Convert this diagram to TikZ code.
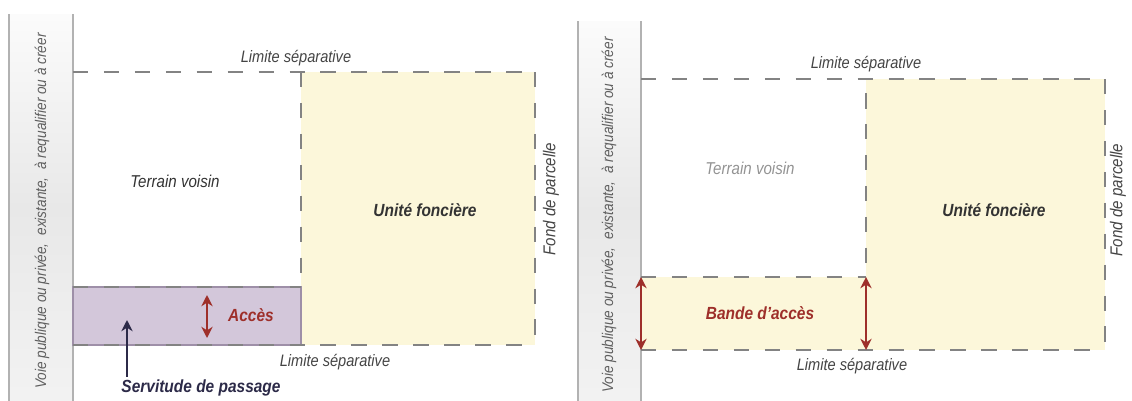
\documentclass[tikz,border=0pt]{standalone}
\usepackage{fontspec}
\setmainfont{Liberation Sans}[FakeStretch=0.88]
\usetikzlibrary{positioning, arrows.meta}

\definecolor{creme}{HTML}{FCF7DA}
\definecolor{lilas}{HTML}{D3C7DA}
\definecolor{lilasbord}{HTML}{9E8FA8}
\definecolor{tiret}{HTML}{838383}
\definecolor{rouille}{HTML}{9E2F2A}
\definecolor{encre}{HTML}{2C2A48}
\definecolor{texte}{HTML}{444444}

\begin{document}
\begin{tikzpicture}[x=0.025cm, y=-0.025cm,
		% Limites de parcelle en tirets
		limite/.style={
			draw=tiret,
			line width=2.1pt,
			dash pattern=on 11pt off 11pt
		},
		% Bandeau de la voie (a gauche de chaque plan)
		voie/.style={
			top color=gray!3,
			bottom color=gray!10,
			middle color=gray!18
		},
		bordvoie/.style={
			draw=gray!60,
			line width=0.8pt
		},
		% Etiquettes en italique
		etiq/.style={
			font=\fontsize{#1}{14}\selectfont\itshape,
			text=texte,
			inner sep=0pt
		},
		etiq/.default=12.2,
		% Etiquettes en gras
		fort/.style={
			etiq,
			font=\fontsize{12.5}{14}\selectfont\bfseries\itshape
		},
		% Fleches de cote
		cote/.style={
			draw=rouille,
			line width=2pt,
			{Stealth[length=8pt,width=8pt]}-{Stealth[length=8pt,width=8pt]}
		}
		]
		\useasboundingbox (0,0) rectangle (1132,401);
		
		% --- PLAN DE GAUCHE : SERVITUDE ---
		\coordinate (g1) at (73,72);
		\coordinate (g2) at (301,72);
		\coordinate (g3) at (535,72);
		\coordinate (g4) at (73,287);
		\coordinate (g5) at (301,287);
		\coordinate (g6) at (73,345);
		\coordinate (g7) at (301,345);
		\coordinate (g8) at (535,345);
		
		\shade[voie] (9,14) rectangle (g6 |- 0,401);
		\draw[bordvoie] (9,14) -- (9,401) (73,14) -- (73,401);
		\fill[creme] (g2) rectangle (g8);
		\filldraw[fill=lilas, draw=lilasbord, line width=1pt] (g4) rectangle (g7);
		\draw[limite] (g1) -- (g3);
		\draw[limite] (g3) -- (g8);
		\draw[limite] (g6) -- (g8);
		\draw[limite] (g2) -- (g5);
		\draw[limite] (g4) -- (g5);
		
		\node[etiq=11, rotate=90, text=gray!75!black] (voieg) at (42,211) {Voie publique ou privée,\hspace{0.5em}existante,\hspace{0.5em}à requalifier ou à créer};
		\node[etiq=11.8] (lsg1) at (296,58) {Limite séparative};
		\node[etiq=11.8] (lsg2) at (335,362) {Limite séparative};
		\node[etiq, text=black!80] (tvg) at (175,181) {Terrain voisin};
		\node[fort, text=black!80] (ufg) at (425,210) {Unité foncière};
		\node[etiq, rotate=90] (fpg) at (551,199) {Fond de parcelle};
		\node[fort, text=rouille] (acces) at (251,315) {Accès};
		\node[fort, text=encre] (serv) at (201,388) {Servitude de passage};
		
		\coordinate (ah) at (207,295);
		\coordinate (ab) at (207,338);
		\draw[cote] (ah) -- (ab);
		\coordinate (stip) at (127,320);
		\draw[encre, line width=2pt, -{Stealth[length=8pt,width=8pt]}] (stip |- serv.north) ++(0,-3) -- (stip);
		
		% --- PLAN DE DROITE : BANDE D'ACCES ---
		\coordinate (d1) at (641,79);
		\coordinate (d2) at (866,79);
		\coordinate (d3) at (1105,79);
		\coordinate (d4) at (641,277);
		\coordinate (d5) at (866,277);
		\coordinate (d6) at (641,350);
		\coordinate (d7) at (866,350);
		\coordinate (d8) at (1105,350);
		
		\shade[voie] (578,21) rectangle (d6 |- 0,401);
		\draw[bordvoie] (578,21) -- (578,401) (641,21) -- (641,401);
		\fill[creme] (d2) rectangle (d8);
		\fill[creme] (d4) rectangle (d7);
		\draw[limite] (d1) -- (d3);
		\draw[limite] (d3) -- (d8);
		\draw[limite] (d6) -- (d8);
		\draw[limite] ([yshift=-10]d2) -- (d5);
		\draw[limite] (d4) -- (d5);
		
		\node[etiq=11, rotate=90, text=gray!75!black] (voied) at (609,215) {Voie publique ou privée,\hspace{0.5em}existante,\hspace{0.5em}à requalifier ou à créer};
		\node[etiq=11.8] (lsd1) at (866,64) {Limite séparative};
		\node[etiq=11.8] (lsd2) at (852,366) {Limite séparative};
		\node[etiq, text=gray!85] (tvd) at (750,168) {Terrain voisin};
		\node[fort, text=black!80] (ufd) at (994,210) {Unité foncière};
		\node[etiq, rotate=90] (fpd) at (1118,200) {Fond de parcelle};
		\node[fort, text=rouille] (bande) at (760,313) {Bande d'accès};
		
		\draw[cote] (d4) -- (d6);
		\draw[cote] (d5) -- (d7);
		
	\end{tikzpicture}
\end{document}
